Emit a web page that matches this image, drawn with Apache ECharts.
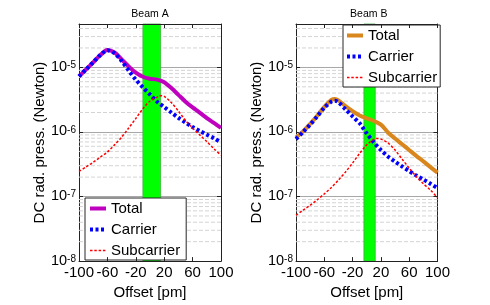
<!DOCTYPE html>
<html><head><meta charset="utf-8">
<script src="https://cdn.jsdelivr.net/npm/echarts@6/dist/echarts.min.js"></script>
<style>html,body{margin:0;padding:0;background:#fff}#c{width:490px;height:305px}</style>
</head><body><div id="c"></div>
<script>
// ---- data ----
const panelTitles = ['Beam A', 'Beam B'];
const seriesNames = ['Total', 'Carrier', 'Subcarrier'];
const xTickLabels = [-100, -60, -20, 20, 60, 100];
const bandA = [-10, 15];
const bandB = [-4, 12];

const offsetsTotalA = [-100,-90,-80,-70,-60,-50,-40,-30,-20,-10,0,10,20,30,40,50,60,70,80,90,100];
const totalA = [7.24e-6,9.33e-6,1.20e-5,1.55e-5,1.86e-5,1.70e-5,1.33e-5,1.035e-5,8.3e-6,7.16e-6,6.68e-6,6.46e-6,5.89e-6,4.79e-6,3.76e-6,2.95e-6,2.40e-6,2.0e-6,1.64e-6,1.38e-6,1.16e-6];
const offsetsCarrierA = [-100,-90,-80,-70,-60,-50,-40,-30,-20,-10,0,10,20,30,40,50,60,70,80,90,100];
const carrierA = [7.24e-6,9.33e-6,1.20e-5,1.55e-5,1.84e-5,1.66e-5,1.26e-5,8.9e-6,6.46e-6,4.9e-6,3.8e-6,2.95e-6,2.43e-6,2.0e-6,1.66e-6,1.40e-6,1.19e-6,1.035e-6,9.1e-7,8.0e-7,6.9e-7];
const offsetsSubA = [-100,-90,-80,-70,-60,-50,-40,-30,-20,-10,0,10,15,20,30,40,50,60,70,80,90,100];
const subcarrierA = [2.45e-7,2.88e-7,3.39e-7,4.07e-7,4.9e-7,6.31e-7,8.3e-7,1.15e-6,1.62e-6,2.29e-6,3.02e-6,3.47e-6,3.63e-6,3.55e-6,2.85e-6,2.11e-6,1.51e-6,1.15e-6,9.0e-7,7.1e-7,5.5e-7,4.37e-7];

const offsetsTotalB = [-100,-90,-80,-70,-60,-50,-45,-40,-30,-20,-10,0,10,20,30,40,50,60,70,80,90,100];
const totalB = [8.2e-7,1.02e-6,1.33e-6,1.78e-6,2.45e-6,3.13e-6,3.24e-6,3.09e-6,2.51e-6,2.09e-6,1.80e-6,1.62e-6,1.48e-6,1.30e-6,9.8e-7,7.9e-7,6.46e-7,5.25e-7,4.27e-7,3.5e-7,2.85e-7,2.34e-7];
const offsetsCarrierB = [-100,-90,-80,-70,-60,-50,-45,-40,-30,-20,-10,0,10,20,30,40,50,60,70,80,90,100];
const carrierB = [7.76e-7,1.0e-6,1.30e-6,1.74e-6,2.37e-6,2.95e-6,3.05e-6,2.88e-6,2.24e-6,1.74e-6,1.36e-6,9.5e-7,6.9e-7,5.25e-7,4.17e-7,3.47e-7,2.92e-7,2.48e-7,2.11e-7,1.84e-7,1.58e-7,1.35e-7];
const offsetsSubB = [-100,-90,-80,-70,-60,-50,-40,-30,-20,-10,0,10,15,20,30,40,50,60,70,80,90,100];
const subcarrierB = [5.13e-8,6.17e-8,7.33e-8,8.91e-8,1.10e-7,1.38e-7,1.80e-7,2.40e-7,3.31e-7,4.68e-7,6.31e-7,7.67e-7,7.94e-7,7.76e-7,6.76e-7,5.25e-7,3.80e-7,2.75e-7,2.04e-7,1.58e-7,1.26e-7,9.55e-8];

// ---- styling / layout ----
const FONT = '"Liberation Sans", Arial, Helvetica, sans-serif';
const Y_MIN = 1e-8, Y_MAX = 4.7e-5;
const X_MIN = -100, X_MAX = 100;
const grids = [
  {left: 79, top: 24, width: 142, height: 244},
  {left: 296, top: 24, width: 141.5, height: 244}
];
const totalColors = ['#bf00bf', '#d9861c'];
const AXC = '#222';
const lineStyles = [
  null, // total: colour per panel
  {color: '#0000ff', width: 4, type: [3, 2.5]},
  {color: '#ff0000', width: 1.5, type: [2.5, 1.8]}
];

function pairs(xs, ys) { return xs.map((x, i) => [x, ys[i]]); }

// minor log grid lines (2..9 x 10^n), drawn as broken line across the plot width
function minorGridData() {
  const out = [];
  for (let e = -8; e <= -5; e++) {
    for (let m = 2; m <= 9; m++) {
      const v = m * Math.pow(10, e);
      if (v < Y_MAX) { out.push([X_MIN, v], [X_MAX, v], [X_MAX, null]); }
    }
  }
  return out;
}

const xAxes = [], yAxes = [];
[0, 1].forEach(g => {
  xAxes.push({
    type: 'value', gridIndex: g, min: X_MIN, max: X_MAX, position: 'bottom', z: 10,
    axisLine: {show: true, onZero: false, lineStyle: {color: AXC}},
    axisTick: {show: true, inside: true, length: 4, customValues: xTickLabels, lineStyle: {color: AXC}},
    axisLabel: {show: true, customValues: xTickLabels, margin: 4, fontSize: 15, color: '#000', fontFamily: FONT},
    splitLine: {show: false},
    name: 'Offset [pm]', nameLocation: 'middle', nameGap: 21,
    nameTextStyle: {fontSize: 15, color: '#000', fontFamily: FONT}
  });
  xAxes.push({
    type: 'value', gridIndex: g, min: X_MIN, max: X_MAX, position: 'top', z: 10,
    axisLine: {show: true, onZero: false, lineStyle: {color: AXC}},
    axisTick: {show: true, inside: true, length: 4, customValues: xTickLabels, lineStyle: {color: AXC}},
    axisLabel: {show: false}, splitLine: {show: false}
  });
  yAxes.push({
    type: 'log', logBase: 10, gridIndex: g, min: Y_MIN, max: Y_MAX, position: 'left',
    axisLine: {show: true, onZero: false, lineStyle: {color: AXC}},
    axisTick: {show: true, inside: true, length: 4, lineStyle: {color: AXC}},
    splitLine: {show: true, lineStyle: {color: '#a8a8a8', width: 1}},
    axisLabel: {
      show: true, margin: 3, color: '#000', fontFamily: FONT,
      formatter: function (v) {
        const l = Math.log10(v), e = Math.round(l);
        if (Math.abs(l - e) > 0.01) return '';
        return '{b|10}{s|' + e + '}';
      },
      rich: {
        b: {fontSize: 14.5, lineHeight: 14, padding: [5, 0, 0, 0], verticalAlign: 'bottom', fontFamily: FONT, color: '#000'},
        s: {fontSize: 10, lineHeight: 10, verticalAlign: 'top', fontFamily: FONT, color: '#000'}
      }
    },
    name: 'DC rad. press. (Newton)', nameLocation: 'middle', nameGap: 29,
    nameTextStyle: {fontSize: 15, color: '#000', fontFamily: FONT}
  });
  yAxes.push({
    type: 'log', logBase: 10, gridIndex: g, min: Y_MIN, max: Y_MAX, position: 'right',
    axisLine: {show: true, onZero: false, lineStyle: {color: AXC}},
    axisTick: {show: true, inside: true, length: 4, lineStyle: {color: AXC}},
    axisLabel: {show: false}, splitLine: {show: false}
  });
});

const panels = [
  {total: pairs(offsetsTotalA, totalA), carrier: pairs(offsetsCarrierA, carrierA), sub: pairs(offsetsSubA, subcarrierA), band: bandA, suffix: ''},
  {total: pairs(offsetsTotalB, totalB), carrier: pairs(offsetsCarrierB, carrierB), sub: pairs(offsetsSubB, subcarrierB), band: bandB, suffix: ' B'}
];

const series = [];
panels.forEach((p, g) => {
  const xi = g * 2, yi = g * 2;
  series.push({
    type: 'line', xAxisIndex: xi, yAxisIndex: yi, silent: true, z: 1, zlevel: 0,
    data: minorGridData(), symbol: 'none', connectNulls: false,
    lineStyle: {color: '#d4d4d4', type: [4, 2], width: 1},
    emphasis: {disabled: true}, tooltip: {show: false}
  });
  series.push({
    type: 'line', xAxisIndex: xi, yAxisIndex: yi, data: [], silent: true, z: 2,
    markArea: {
      silent: true, animation: false, z: 2, zlevel: 0,
      itemStyle: {color: '#00ff00', borderColor: '#44aa44', borderWidth: 0.8, opacity: 1},
      emphasis: {disabled: true},
      data: [[{xAxis: p.band[0]}, {xAxis: p.band[1]}]]
    }
  });
  series.push({
    name: seriesNames[0] + p.suffix, type: 'line', xAxisIndex: xi, yAxisIndex: yi, z: 3,
    data: p.total, symbol: 'none', smooth: 0.3, color: totalColors[g],
    lineStyle: {color: totalColors[g], width: 4}
  });
  series.push({
    name: seriesNames[1] + p.suffix, type: 'line', xAxisIndex: xi, yAxisIndex: yi, z: 4,
    data: p.carrier, symbol: 'none', smooth: 0.3, color: '#0000ff',
    lineStyle: lineStyles[1]
  });
  series.push({
    name: seriesNames[2] + p.suffix, type: 'line', xAxisIndex: xi, yAxisIndex: yi, z: 5,
    data: p.sub, symbol: 'none', smooth: 0.3, color: '#ff0000',
    lineStyle: lineStyles[2]
  });
});

function legendData(suffix, g) {
  return seriesNames.map((n, i) => ({
    name: n + suffix,
    lineStyle: i === 0 ? {color: totalColors[g], width: 4} : lineStyles[i]
  }));
}

const legendCommon = {
  orient: 'vertical', itemWidth: 16, itemHeight: 14, itemGap: 6,
  backgroundColor: '#fff', borderColor: '#262626', borderWidth: 1, borderRadius: 0,
  textStyle: {fontSize: 15, color: '#000', fontFamily: FONT},
  itemStyle: {opacity: 0},
  selectedMode: false
};

const option = {
  animation: false,
  backgroundColor: '#fff',
  title: panelTitles.map((t, g) => ({
    text: t, left: grids[g].left + grids[g].width / 2 + (g ? 2 : 0), top: 9, textAlign: 'center', padding: 0,
    textStyle: {fontSize: 10.5, fontWeight: 'normal', color: '#000', fontFamily: FONT}
  })),
  grid: grids,
  xAxis: xAxes,
  yAxis: yAxes,
  legend: [
    Object.assign({}, legendCommon, {
      left: 85, top: 198, padding: [3, 6, 2, 3],
      data: legendData('', 0)
    }),
    Object.assign({}, legendCommon, {
      left: 343, top: 25, padding: [3, 3, 2, 2],
      data: legendData(' B', 1),
      formatter: n => n.replace(' B', '')
    })
  ],
  series: series
};

const chart = echarts.init(document.getElementById('c'), null, {renderer: 'canvas'});
chart.setOption(option);
</script>
</body></html>
